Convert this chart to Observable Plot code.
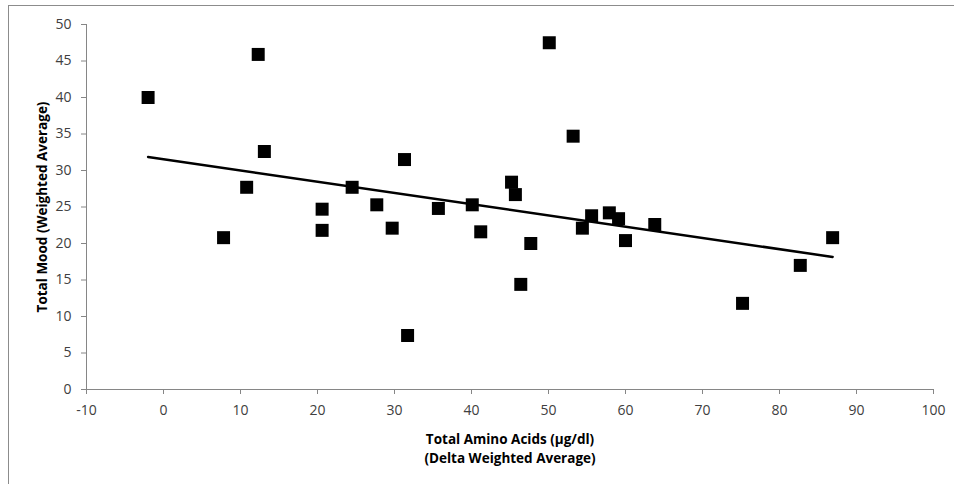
<!DOCTYPE html>
<html>
<head>
<meta charset="utf-8">
<script src="https://cdn.jsdelivr.net/npm/d3@7"></script>
<script src="https://cdn.jsdelivr.net/npm/@observablehq/plot@0.6"></script>
<style>
  html, body { margin: 0; padding: 0; background: #fff; overflow: hidden; }
  #wrap { position: relative; width: 954px; height: 484px; }
  #border { position: absolute; left: 8px; top: 5px; width: 960px; height: 500px; border: 1px solid #8c8c8c; box-sizing: border-box; pointer-events: none; }
  #chart { position: absolute; left: 0; top: 0; }
</style>
</head>
<body>
<div id="wrap"><div id="chart"></div><div id="border"></div></div>
<script>
const aminoAcids = [-2.0, 12.3, 7.8, 10.8, 13.1, 20.6, 20.6, 24.5, 27.7, 29.7, 31.3, 31.7, 35.7, 40.1, 41.2, 45.2, 45.7, 46.4, 47.7, 50.1, 53.2, 54.4, 55.6, 57.9, 59.1, 60.0, 63.8, 75.2, 82.7, 86.9];
const mood = [40.0, 45.9, 20.8, 27.7, 32.6, 24.7, 21.8, 27.7, 25.3, 22.1, 31.5, 7.4, 24.8, 25.3, 21.6, 28.4, 26.7, 14.4, 20.0, 47.5, 34.7, 22.1, 23.8, 24.2, 23.4, 20.4, 22.6, 11.8, 17.0, 20.8];
const xTicks = [-10, 0, 10, 20, 30, 40, 50, 60, 70, 80, 90, 100];
const yTicks = [0, 5, 10, 15, 20, 25, 30, 35, 40, 45, 50];
const xTitle = "Total Amino Acids (µg/dl)\n(Delta Weighted Average)";
const yTitle = "Total Mood (Weighted Average)";

const data = aminoAcids.map((x, i) => ({x, y: mood[i]}));

const axisColor = "#868686";
const labelColor = "#404040";

const chart = Plot.plot({
  width: 954,
  height: 484,
  marginLeft: 86,
  marginRight: 21,
  marginTop: 24,
  marginBottom: 95,
  style: {fontFamily: "'Open Sans', sans-serif", fontSize: "14px", background: "#fff", color: labelColor},
  x: {domain: [-10, 100]},
  y: {domain: [0, 50]},
  marks: [
    Plot.ruleY([0], {stroke: axisColor, strokeWidth: 1}),
    Plot.ruleX([-10], {stroke: axisColor, strokeWidth: 1}),
    Plot.axisX({ticks: xTicks, tickFormat: d => String(d), tickSize: 5, tickPadding: 11, stroke: axisColor, fill: labelColor, label: null, fontSize: 14}),
    Plot.axisY({ticks: yTicks, tickFormat: d => String(d), tickSize: 5, tickPadding: 10, stroke: axisColor, fill: labelColor, label: null, fontSize: 14}),
    Plot.linearRegressionY(data, {x: "x", y: "y", ci: 0, stroke: "black", strokeWidth: 2.5}),
    Plot.dot(data, {x: "x", y: "y", symbol: "square", r: 7.33, fill: "black", stroke: null}),
    Plot.text([xTitle], {frameAnchor: "bottom", dy: 57.5, textAnchor: "middle", lineAnchor: "middle", fontWeight: "bold", fontSize: 13.5, fill: "#000", lineHeight: 1.41, text: d => d}),
    Plot.text([yTitle], {frameAnchor: "left", dx: -44, rotate: -90, textAnchor: "middle", lineAnchor: "middle", fontWeight: "bold", fontSize: 13.5, fill: "#000", text: d => d})
  ]
});
document.getElementById("chart").appendChild(chart);
</script>
</body>
</html>
